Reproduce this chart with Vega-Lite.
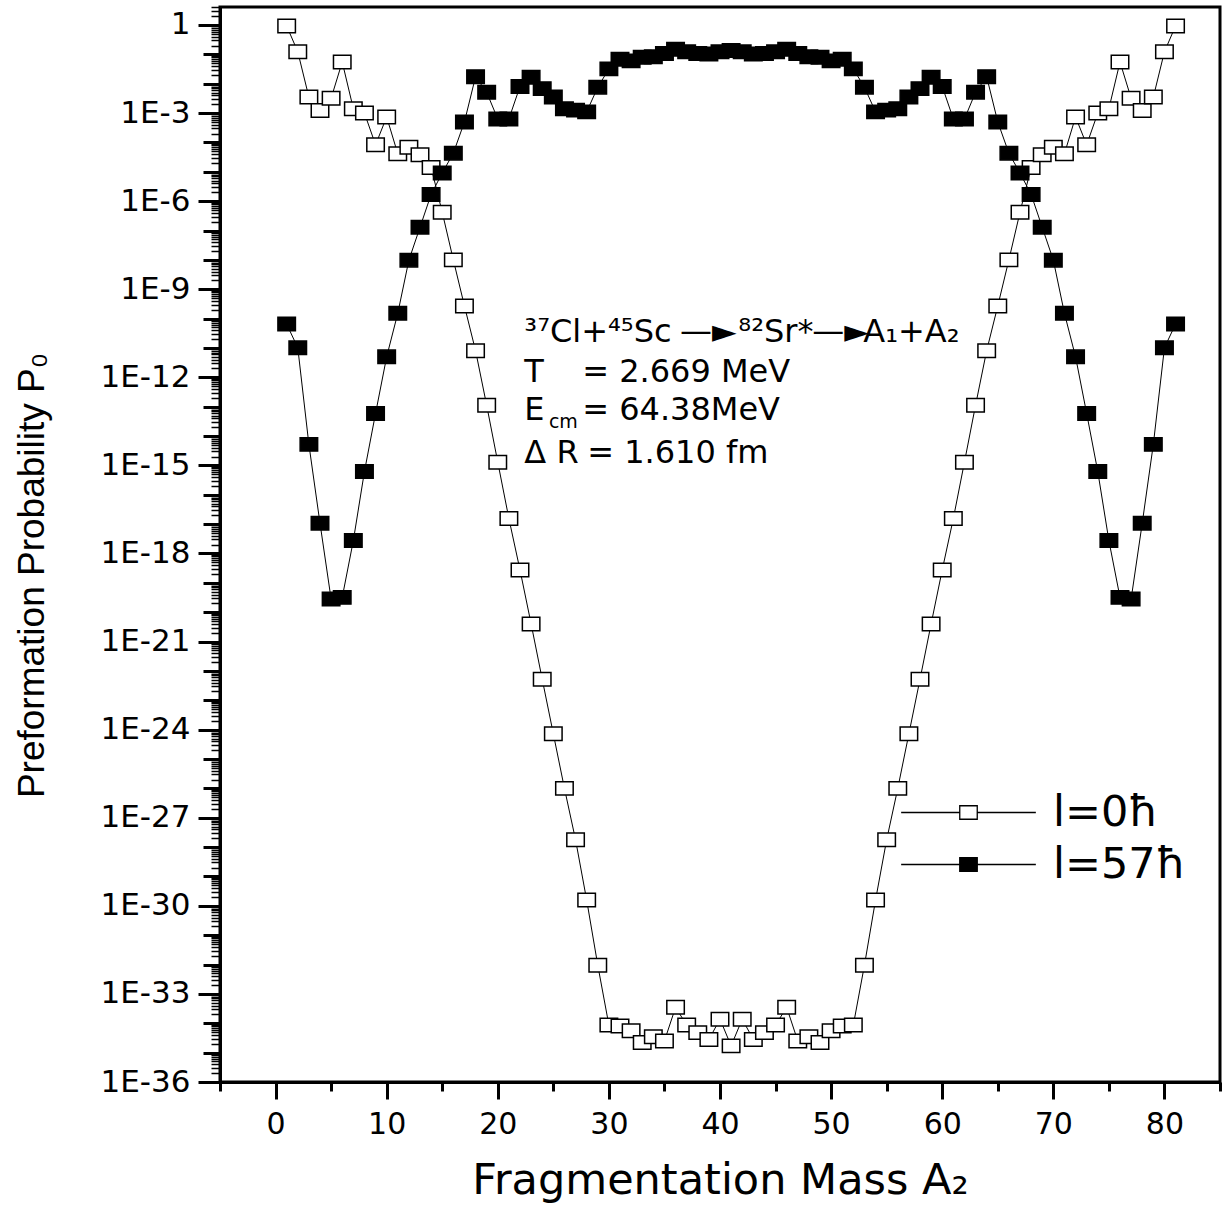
{
  "$schema": "https://vega.github.io/schema/vega-lite/v6.json",
  "width": 1000,
  "height": 1075,
  "autosize": {"type": "none"},
  "padding": {"left": 220, "top": 7, "right": 2, "bottom": 129},
  "background": "white",
  "config": {"view": {"stroke": "black", "strokeWidth": 3}, "font": "DejaVu Sans"},
  "datasets": {
    "pp": [
      {"A":1,"P":0.93,"l":"l=0ħ"},{"A":2,"P":0.123,"l":"l=0ħ"},{"A":3,"P":3.5e-3,"l":"l=0ħ"},{"A":4,"P":1.23e-3,"l":"l=0ħ"},{"A":5,"P":3.2e-3,"l":"l=0ħ"},{"A":6,"P":5.5e-2,"l":"l=0ħ"},{"A":7,"P":1.41e-3,"l":"l=0ħ"},{"A":8,"P":1.0e-3,"l":"l=0ħ"},{"A":9,"P":8.3e-5,"l":"l=0ħ"},{"A":10,"P":7.4e-4,"l":"l=0ħ"},
      {"A":11,"P":4.1e-5,"l":"l=0ħ"},{"A":12,"P":6.9e-5,"l":"l=0ħ"},{"A":13,"P":3.8e-5,"l":"l=0ħ"},{"A":14,"P":1.41e-5,"l":"l=0ħ"},{"A":15,"P":4.2e-7,"l":"l=0ħ"},{"A":16,"P":1.0e-8,"l":"l=0ħ"},{"A":17,"P":2.7e-10,"l":"l=0ħ"},{"A":18,"P":8.1e-12,"l":"l=0ħ"},{"A":19,"P":1.12e-13,"l":"l=0ħ"},{"A":20,"P":1.29e-15,"l":"l=0ħ"},
      {"A":21,"P":1.55e-17,"l":"l=0ħ"},{"A":22,"P":2.75e-19,"l":"l=0ħ"},{"A":23,"P":4.0e-21,"l":"l=0ħ"},{"A":24,"P":5.2e-23,"l":"l=0ħ"},{"A":25,"P":7.2e-25,"l":"l=0ħ"},{"A":26,"P":1.0e-26,"l":"l=0ħ"},{"A":27,"P":1.78e-28,"l":"l=0ħ"},{"A":28,"P":1.58e-30,"l":"l=0ħ"},{"A":29,"P":9.5e-33,"l":"l=0ħ"},{"A":30,"P":8.7e-35,"l":"l=0ħ"},
      {"A":31,"P":8.1e-35,"l":"l=0ħ"},{"A":32,"P":5.6e-35,"l":"l=0ħ"},{"A":33,"P":2.2e-35,"l":"l=0ħ"},{"A":34,"P":3.5e-35,"l":"l=0ħ"},{"A":35,"P":2.5e-35,"l":"l=0ħ"},{"A":36,"P":3.5e-34,"l":"l=0ħ"},{"A":37,"P":8.7e-35,"l":"l=0ħ"},{"A":38,"P":4.8e-35,"l":"l=0ħ"},{"A":39,"P":2.8e-35,"l":"l=0ħ"},{"A":40,"P":1.38e-34,"l":"l=0ħ"},
      {"A":41,"P":1.7e-35,"l":"l=0ħ"},
      {"A":42,"P":1.38e-34,"l":"l=0ħ"},{"A":43,"P":2.8e-35,"l":"l=0ħ"},{"A":44,"P":4.8e-35,"l":"l=0ħ"},{"A":45,"P":8.7e-35,"l":"l=0ħ"},{"A":46,"P":3.5e-34,"l":"l=0ħ"},{"A":47,"P":2.5e-35,"l":"l=0ħ"},{"A":48,"P":3.5e-35,"l":"l=0ħ"},{"A":49,"P":2.2e-35,"l":"l=0ħ"},{"A":50,"P":5.6e-35,"l":"l=0ħ"},{"A":51,"P":8.1e-35,"l":"l=0ħ"},
      {"A":52,"P":8.7e-35,"l":"l=0ħ"},{"A":53,"P":9.5e-33,"l":"l=0ħ"},{"A":54,"P":1.58e-30,"l":"l=0ħ"},{"A":55,"P":1.78e-28,"l":"l=0ħ"},{"A":56,"P":1.0e-26,"l":"l=0ħ"},{"A":57,"P":7.2e-25,"l":"l=0ħ"},{"A":58,"P":5.2e-23,"l":"l=0ħ"},{"A":59,"P":4.0e-21,"l":"l=0ħ"},{"A":60,"P":2.75e-19,"l":"l=0ħ"},{"A":61,"P":1.55e-17,"l":"l=0ħ"},
      {"A":62,"P":1.29e-15,"l":"l=0ħ"},{"A":63,"P":1.12e-13,"l":"l=0ħ"},{"A":64,"P":8.1e-12,"l":"l=0ħ"},{"A":65,"P":2.7e-10,"l":"l=0ħ"},{"A":66,"P":1.0e-8,"l":"l=0ħ"},{"A":67,"P":4.2e-7,"l":"l=0ħ"},{"A":68,"P":1.41e-5,"l":"l=0ħ"},{"A":69,"P":3.8e-5,"l":"l=0ħ"},{"A":70,"P":6.9e-5,"l":"l=0ħ"},{"A":71,"P":4.1e-5,"l":"l=0ħ"},
      {"A":72,"P":7.4e-4,"l":"l=0ħ"},{"A":73,"P":8.3e-5,"l":"l=0ħ"},{"A":74,"P":1.0e-3,"l":"l=0ħ"},{"A":75,"P":1.41e-3,"l":"l=0ħ"},{"A":76,"P":5.5e-2,"l":"l=0ħ"},{"A":77,"P":3.2e-3,"l":"l=0ħ"},{"A":78,"P":1.23e-3,"l":"l=0ħ"},{"A":79,"P":3.5e-3,"l":"l=0ħ"},{"A":80,"P":0.123,"l":"l=0ħ"},{"A":81,"P":0.93,"l":"l=0ħ"},

      {"A":1,"P":6.5e-11,"l":"l=57ħ"},{"A":2,"P":1.02e-11,"l":"l=57ħ"},{"A":3,"P":5.2e-15,"l":"l=57ħ"},{"A":4,"P":1.07e-17,"l":"l=57ħ"},{"A":5,"P":2.8e-20,"l":"l=57ħ"},{"A":6,"P":3.2e-20,"l":"l=57ħ"},{"A":7,"P":2.75e-18,"l":"l=57ħ"},{"A":8,"P":6.2e-16,"l":"l=57ħ"},{"A":9,"P":5.9e-14,"l":"l=57ħ"},{"A":10,"P":5.0e-12,"l":"l=57ħ"},
      {"A":11,"P":1.51e-10,"l":"l=57ħ"},{"A":12,"P":9.8e-9,"l":"l=57ħ"},{"A":13,"P":1.29e-7,"l":"l=57ħ"},{"A":14,"P":1.7e-6,"l":"l=57ħ"},{"A":15,"P":9.1e-6,"l":"l=57ħ"},{"A":16,"P":4.3e-5,"l":"l=57ħ"},{"A":17,"P":5.0e-4,"l":"l=57ħ"},{"A":18,"P":1.74e-2,"l":"l=57ħ"},{"A":19,"P":5.1e-3,"l":"l=57ħ"},{"A":20,"P":6.3e-4,"l":"l=57ħ"},
      {"A":21,"P":6.3e-4,"l":"l=57ħ"},{"A":22,"P":8.1e-3,"l":"l=57ħ"},{"A":23,"P":1.66e-2,"l":"l=57ħ"},{"A":24,"P":6.8e-3,"l":"l=57ħ"},{"A":25,"P":3.5e-3,"l":"l=57ħ"},{"A":26,"P":1.41e-3,"l":"l=57ħ"},{"A":27,"P":1.26e-3,"l":"l=57ħ"},{"A":28,"P":1.10e-3,"l":"l=57ħ"},{"A":29,"P":7.6e-3,"l":"l=57ħ"},{"A":30,"P":3.2e-2,"l":"l=57ħ"},
      {"A":31,"P":6.8e-2,"l":"l=57ħ"},{"A":32,"P":6.0e-2,"l":"l=57ħ"},{"A":33,"P":7.9e-2,"l":"l=57ħ"},{"A":34,"P":8.3e-2,"l":"l=57ħ"},{"A":35,"P":0.107,"l":"l=57ħ"},{"A":36,"P":0.148,"l":"l=57ħ"},{"A":37,"P":0.123,"l":"l=57ħ"},{"A":38,"P":0.107,"l":"l=57ħ"},{"A":39,"P":0.102,"l":"l=57ħ"},{"A":40,"P":0.123,"l":"l=57ħ"},
      {"A":41,"P":0.135,"l":"l=57ħ"},
      {"A":42,"P":0.123,"l":"l=57ħ"},{"A":43,"P":0.102,"l":"l=57ħ"},{"A":44,"P":0.107,"l":"l=57ħ"},{"A":45,"P":0.123,"l":"l=57ħ"},{"A":46,"P":0.148,"l":"l=57ħ"},{"A":47,"P":0.107,"l":"l=57ħ"},{"A":48,"P":8.3e-2,"l":"l=57ħ"},{"A":49,"P":7.9e-2,"l":"l=57ħ"},{"A":50,"P":6.0e-2,"l":"l=57ħ"},{"A":51,"P":6.8e-2,"l":"l=57ħ"},
      {"A":52,"P":3.2e-2,"l":"l=57ħ"},{"A":53,"P":7.6e-3,"l":"l=57ħ"},{"A":54,"P":1.10e-3,"l":"l=57ħ"},{"A":55,"P":1.26e-3,"l":"l=57ħ"},{"A":56,"P":1.41e-3,"l":"l=57ħ"},{"A":57,"P":3.5e-3,"l":"l=57ħ"},{"A":58,"P":6.8e-3,"l":"l=57ħ"},{"A":59,"P":1.66e-2,"l":"l=57ħ"},{"A":60,"P":8.1e-3,"l":"l=57ħ"},{"A":61,"P":6.3e-4,"l":"l=57ħ"},
      {"A":62,"P":6.3e-4,"l":"l=57ħ"},{"A":63,"P":5.1e-3,"l":"l=57ħ"},{"A":64,"P":1.74e-2,"l":"l=57ħ"},{"A":65,"P":5.0e-4,"l":"l=57ħ"},{"A":66,"P":4.3e-5,"l":"l=57ħ"},{"A":67,"P":9.1e-6,"l":"l=57ħ"},{"A":68,"P":1.7e-6,"l":"l=57ħ"},{"A":69,"P":1.29e-7,"l":"l=57ħ"},{"A":70,"P":9.8e-9,"l":"l=57ħ"},{"A":71,"P":1.51e-10,"l":"l=57ħ"},
      {"A":72,"P":5.0e-12,"l":"l=57ħ"},{"A":73,"P":5.9e-14,"l":"l=57ħ"},{"A":74,"P":6.2e-16,"l":"l=57ħ"},{"A":75,"P":2.75e-18,"l":"l=57ħ"},{"A":76,"P":3.2e-20,"l":"l=57ħ"},{"A":77,"P":2.8e-20,"l":"l=57ħ"},{"A":78,"P":1.07e-17,"l":"l=57ħ"},{"A":79,"P":5.2e-15,"l":"l=57ħ"},{"A":80,"P":1.02e-11,"l":"l=57ħ"},{"A":81,"P":6.5e-11,"l":"l=57ħ"}
    ],
    "ann": [
      {"A":22.39,"P":1.63e-11,"t":"³⁷Cl+⁴⁵Sc"},
      {"A":36.4,"P":1.63e-11,"t":"—►"},
      {"A":41.65,"P":1.63e-11,"t":"⁸²Sr*"},
      {"A":48.3,"P":1.63e-11,"t":"—►"},
      {"A":52.9,"P":1.63e-11,"t":"A₁+A₂"},
      {"A":22.39,"P":7.1e-13,"t":"T"},
      {"A":27.6,"P":7.1e-13,"t":"= 2.669 MeV"},
      {"A":22.39,"P":3.52e-14,"t":"E"},
      {"A":27.6,"P":3.52e-14,"t":"= 64.38MeV"},
      {"A":22.39,"P":1.24e-15,"t":"Δ R"},
      {"A":28.05,"P":1.24e-15,"t":"=  1.610 fm"}
    ],
    "sub": [
      {"A":24.6,"P":1.88e-14,"t":"cm"}
    ]
  },
  "encoding": {
    "x": {
      "field": "A", "type": "quantitative",
      "scale": {"domain": [-5, 85], "nice": false, "zero": false},
      "axis": {
        "title": "Fragmentation Mass A₂",
        "titleFont": "DejaVu Sans", "titleFontSize": 43, "titleFontWeight": "normal", "titleColor": "black", "titlePadding": 20,
        "values": [-5,0,5,10,15,20,25,30,35,40,45,50,55,60,65,70,75,80,85],
        "labelExpr": "datum.value % 10 == 0 ? datum.label : ''",
        "labelFont": "DejaVu Sans", "labelFontSize": 30, "labelColor": "black", "labelPadding": 10,
        "labelFlush": false, "labelOverlap": false,
        "tickSize": {"condition": {"test": "datum.value % 10 == 0", "value": 17}, "value": 9},
        "tickWidth": 3, "tickColor": "black",
        "domainColor": "black", "domainWidth": 3, "grid": false
      }
    },
    "y": {
      "field": "P", "type": "quantitative",
      "scale": {"type": "log", "domain": [1e-36, 4.1], "nice": false},
      "axis": {
        "title": "Preformation Probability P₀",
        "titleFont": "Liberation Sans", "titleFontSize": 37, "titleFontWeight": "normal", "titleColor": "black",
        "titleX": -177, "titleY": 568, "titleAngle": -90, "titleAlign": "center", "titleBaseline": "alphabetic",
        "tickCount": 300,
        "labelExpr": "abs(log(datum.value)/LN10 - round(log(datum.value)/LN10)) < 0.001 && round(log(datum.value)/LN10) % 3 == 0 ? (round(log(datum.value)/LN10) == 0 ? '1' : '1E' + round(log(datum.value)/LN10)) : ''",
        "labelFont": "DejaVu Sans", "labelFontSize": 31, "labelColor": "black", "labelPadding": 8,
        "labelFlush": false, "labelOverlap": false,
        "tickSize": {"condition": [
          {"test": "abs(log(datum.value)/LN10 - round(log(datum.value)/LN10)) < 0.001 && round(log(datum.value)/LN10) % 3 == 0", "value": 22},
          {"test": "abs(log(datum.value)/LN10 - round(log(datum.value)/LN10)) < 0.001", "value": 17}
        ], "value": 9},
        "tickWidth": {"condition": {"test": "abs(log(datum.value)/LN10 - round(log(datum.value)/LN10)) < 0.001", "value": 3}, "value": 1.5},
        "tickColor": "black",
        "domainColor": "black", "domainWidth": 3, "grid": false
      }
    }
  },
  "layer": [
    {
      "data": {"name": "pp"},
      "mark": {"type": "line", "color": "black", "strokeWidth": 1},
      "encoding": {"detail": {"field": "l", "type": "nominal"}}
    },
    {
      "data": {"name": "pp"},
      "mark": {"type": "point", "shape": "M-1,-0.77H1V0.77H-1Z", "size": 306, "stroke": "black", "strokeWidth": 1.5, "opacity": 1, "filled": true},
      "encoding": {
        "fill": {
          "field": "l", "type": "nominal",
          "scale": {"domain": ["l=0ħ", "l=57ħ"], "range": ["white", "black"]},
          "legend": {
            "orient": "none", "legendX": 727, "legendY": 784, "title": null, "padding": 0,
            "symbolType": "M-7.7,0H-1M1,0H7.7M-1,-0.77H1V0.77H-1Z",
            "symbolSize": 306, "symbolStrokeColor": "black", "symbolStrokeWidth": 1.3,
            "labelFont": "DejaVu Sans", "labelFontSize": 43, "labelColor": "black",
            "labelOffset": 63, "rowPadding": 8, "labelLimit": 400
          }
        }
      }
    },
    {
      "data": {"name": "ann"},
      "mark": {"type": "text", "align": "left", "baseline": "alphabetic", "font": "DejaVu Sans", "fontSize": 32, "color": "black"},
      "encoding": {"text": {"field": "t", "type": "nominal"}}
    },
    {
      "data": {"name": "sub"},
      "mark": {"type": "text", "align": "left", "baseline": "alphabetic", "font": "DejaVu Sans", "fontSize": 19, "color": "black"},
      "encoding": {"text": {"field": "t", "type": "nominal"}}
    }
  ]
}
